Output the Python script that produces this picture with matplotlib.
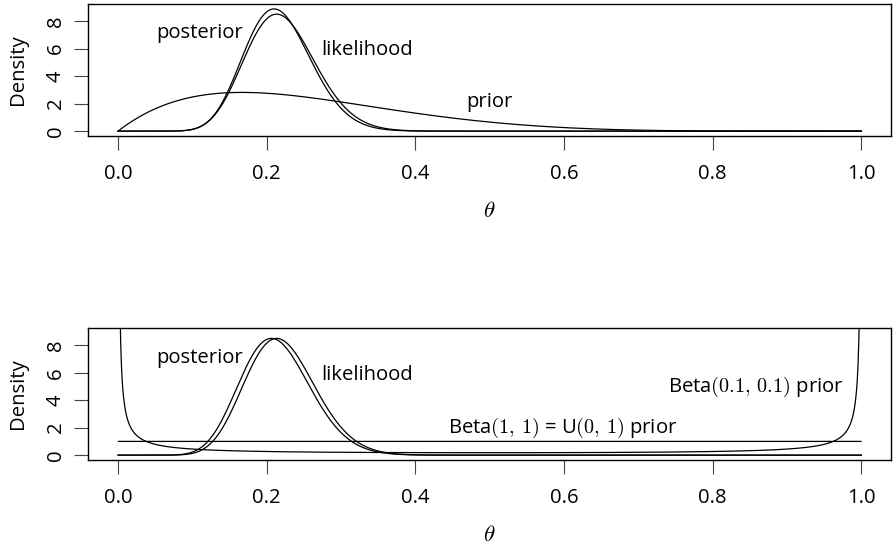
import math
import numpy as np
import matplotlib
matplotlib.use("Agg")
import matplotlib.pyplot as plt

plt.rcParams['font.family'] = ['Open Sans', 'DejaVu Sans']
plt.rcParams['mathtext.fontset'] = 'cm'

# data: y successes out of n trials
y_obs = 16
n_obs = 75

# priors (a, b)
prior_top = (2, 6)
prior_flat = (1, 1)
prior_jeff = (0.1, 0.1)

y_ticks = [0, 2, 4, 6, 8]
x_ticks = [0.0, 0.2, 0.4, 0.6, 0.8, 1.0]
x_ticklabels = ["0.0", "0.2", "0.4", "0.6", "0.8", "1.0"]


def dbeta(x, a, b):
    logB = math.lgamma(a) + math.lgamma(b) - math.lgamma(a + b)
    with np.errstate(divide='ignore'):
        return np.exp((a - 1) * np.log(x) + (b - 1) * np.log1p(-x) - logB)


theta = np.linspace(0, 1, 2001)
theta_in = theta[1:-1]

lik = dbeta(theta, y_obs + 1, n_obs - y_obs + 1)
post_top = dbeta(theta, prior_top[0] + y_obs, prior_top[1] + n_obs - y_obs)
pri_top = dbeta(theta, *prior_top)

post_jeff = dbeta(theta, prior_jeff[0] + y_obs, prior_jeff[1] + n_obs - y_obs)
pri_jeff = dbeta(theta_in, *prior_jeff)
pri_flat = dbeta(theta, *prior_flat)

ymax = post_top.max()
ylim = (-0.04 * ymax, 1.04 * ymax)

fig = plt.figure(figsize=(8.93, 5.5), dpi=100)
ax1 = fig.add_axes([0.0989, 0.7527, 0.899, 0.24])
ax2 = fig.add_axes([0.0989, 0.1636, 0.899, 0.2395])

fs = 14.6

for ax in (ax1, ax2):
    ax.set_xlim(-0.04, 1.04)
    ax.set_ylim(*ylim)
    ax.set_xticks(x_ticks)
    ax.set_xticklabels(x_ticklabels)
    ax.set_yticks(y_ticks)
    ax.set_yticklabels([str(v) for v in y_ticks], rotation=90, va='center')
    ax.tick_params(axis='both', direction='out', length=10, width=0.8,
                   labelsize=fs, color='#444444')
    ax.tick_params(axis='x', pad=10)
    ax.tick_params(axis='y', pad=6)
    ax.set_xlabel(r"$\theta$", fontsize=fs + 2, labelpad=11)
    ax.set_ylabel("Density", fontsize=fs, labelpad=13)
    for s in ax.spines.values():
        s.set_linewidth(1.0)

# top panel
ax1.plot(theta, lik, color='black', lw=0.9)
ax1.plot(theta, post_top, color='black', lw=0.9)
ax1.plot(theta, pri_top, color='black', lw=0.9)
ax1.text(0.11, 7.1, "posterior", fontsize=fs, ha='center', va='center')
ax1.text(0.335, 5.9, "likelihood", fontsize=fs, ha='center', va='center')
ax1.text(0.5, 2.1, "prior", fontsize=fs, ha='center', va='center')

# bottom panel
ax2.plot(theta, lik, color='black', lw=0.9)
ax2.plot(theta, post_jeff, color='black', lw=0.9)
ax2.plot(theta, pri_flat, color='black', lw=0.9)
ax2.plot(theta_in, pri_jeff, color='black', lw=0.9)
ax2.text(0.11, 7.05, "posterior", fontsize=fs, ha='center', va='center')
ax2.text(0.335, 5.85, "likelihood", fontsize=fs, ha='center', va='center')
ax2.text(0.858, 5.0, r"Beta$(0.1,\,0.1)$ prior", fontsize=fs, ha='center', va='center')
ax2.text(0.598, 2.0, r"Beta$(1,\,1)$ = U$(0,\,1)$ prior", fontsize=fs, ha='center', va='center')

fig.savefig("out.png", dpi=100)
